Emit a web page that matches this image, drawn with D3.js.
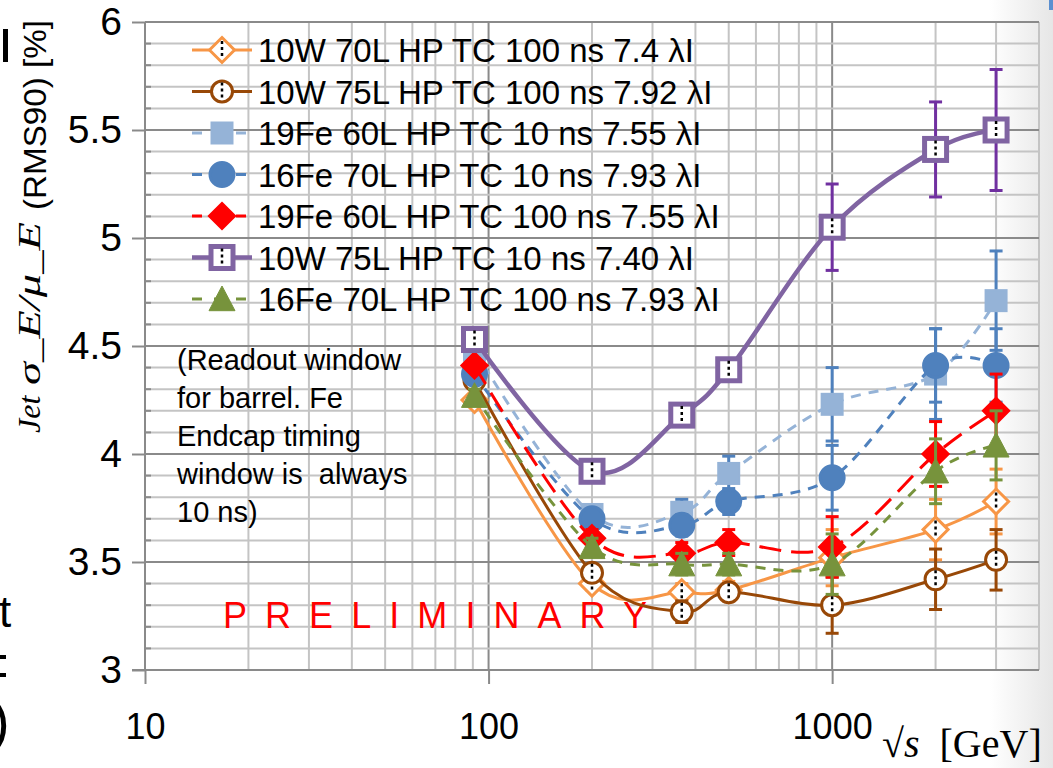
<!DOCTYPE html>
<html lang="en">
<head>
<meta charset="utf-8">
<script src="https://d3js.org/d3.v7.min.js"></script>
<style>
  body { margin: 0; background: #fff; }
  svg { display: block; font-family: "Liberation Sans", Arial, sans-serif; }
</style>
</head>
<body>
<svg id="chart" width="1053" height="768"></svg>
<script>
// energies (sqrt s, GeV)
var energies = [91, 200, 365, 500, 1000, 2000, 3000];

var seriesNames = [
  "10W 70L HP TC 100 ns 7.4 λI",
  "10W 75L HP TC 100 ns 7.92 λI",
  "19Fe 60L HP TC 10 ns 7.55 λI",
  "16Fe 70L HP TC 10 ns 7.93 λI",
  "19Fe 60L HP TC 100 ns 7.55 λI",
  "10W 75L HP TC 10 ns 7.40 λI",
  "16Fe 70L HP TC 100 ns 7.93 λI"
];

// resolution values [%]
var w10_70L_100ns = [4.25, 3.40, 3.36, 3.37, 3.52, 3.65, 3.78];
var w10_75L_100ns = [4.34, 3.45, 3.27, 3.36, 3.30, 3.42, 3.51];
var fe19_60L_10ns = [4.48, 3.72, 3.73, 3.91, 4.23, 4.37, 4.71];
var fe16_70L_10ns = [4.37, 3.70, 3.67, 3.78, 3.89, 4.41, 4.41];
var fe19_60L_100ns = [4.41, 3.61, 3.54, 3.59, 3.57, 4.00, 4.20];
var w10_75L_10ns = [4.53, 3.92, 4.18, 4.39, 5.05, 5.41, 5.50];
var fe16_70L_100ns = [4.27, 3.57, 3.49, 3.49, 3.49, 3.92, 4.04];

// errors
var err_w10_70L_100ns = [0.03, 0.03, 0.04, 0.04, 0.13, 0.14, 0.15];
var err_w10_75L_100ns = [0.03, 0.03, 0.05, 0.04, 0.13, 0.14, 0.14];
var err_fe19_60L_10ns = [0.03, 0.04, 0.06, 0.08, 0.17, 0.21, 0.23];
var err_fe16_70L_10ns = [0.03, 0.04, 0.05, 0.06, 0.15, 0.17, 0.17];
var err_fe19_60L_100ns = [0.03, 0.04, 0.05, 0.06, 0.14, 0.15, 0.17];
var err_w10_75L_10ns = [0.03, 0.03, 0.05, 0.05, 0.20, 0.22, 0.28];
var err_fe16_70L_100ns = [0.03, 0.04, 0.05, 0.05, 0.14, 0.15, 0.16];

var yTicks = [3, 3.5, 4, 4.5, 5, 5.5, 6];
var xTicks = [10, 100, 1000];

var series = [
  { name: seriesNames[0], v: w10_70L_100ns, e: err_w10_70L_100ns, color: "#F79646", ecolor: "#F79646", dash: null, lw: 3, marker: "diamondOpen" },
  { name: seriesNames[1], v: w10_75L_100ns, e: err_w10_75L_100ns, color: "#984807", ecolor: "#984807", dash: null, lw: 3, marker: "circleOpen" },
  { name: seriesNames[2], v: fe19_60L_10ns, e: err_fe19_60L_10ns, color: "#95B3D7", ecolor: "#4F81BD", dash: "10,8", lw: 3, marker: "square" },
  { name: seriesNames[3], v: fe16_70L_10ns, e: err_fe16_70L_10ns, color: "#4F81BD", ecolor: "#4F81BD", dash: "10,8", lw: 3, marker: "circle" },
  { name: seriesNames[4], v: fe19_60L_100ns, e: err_fe19_60L_100ns, color: "#FF0000", ecolor: "#FF0000", dash: "22,10", lw: 3, marker: "diamond" },
  { name: seriesNames[5], v: w10_75L_10ns, e: err_w10_75L_10ns, color: "#8064A2", ecolor: "#7030A0", dash: null, lw: 4.5, marker: "squareOpen" },
  { name: seriesNames[6], v: fe16_70L_100ns, e: err_fe16_70L_100ns, color: "#77933C", ecolor: "#77933C", dash: "10,8", lw: 3, marker: "triangle" }
];

var svg = d3.select("#chart");
var mLeft = 145, mRight = 1039, mTop = 22, mBottom = 670;

var x = d3.scaleLog().domain([10, 4000]).range([mLeft, mRight]);
var y = d3.scaleLinear().domain([3, 6]).range([mBottom, mTop]);

// slide shading on the right edge
var defs = svg.append("defs");
var grad = defs.append("linearGradient").attr("id", "edge").attr("x1", 0).attr("x2", 1);
grad.append("stop").attr("offset", 0).attr("stop-color", "#fff");
grad.append("stop").attr("offset", 1).attr("stop-color", "#e6e6e6");
svg.append("rect").attr("x", 990).attr("y", 0).attr("width", 63).attr("height", 768).attr("fill", "url(#edge)");
svg.append("rect").attr("x", 1049).attr("y", 0).attr("width", 4).attr("height", 10).attr("fill", "#5B8FD0");

// grid
var grid = svg.append("g");
var vMinor = [];
[10, 100, 1000].forEach(function (d) {
  for (var k = 1; k <= 9; k++) if (d * k <= 4000) vMinor.push(d * k);
});
grid.selectAll(".vg").data(vMinor).enter().append("line")
  .attr("x1", d => x(d)).attr("x2", d => x(d)).attr("y1", mTop).attr("y2", mBottom)
  .attr("stroke", d => [10, 100, 1000].indexOf(d) >= 0 ? "#8a8a8a" : "#c4c4c4")
  .attr("stroke-width", 2);
var hLines = d3.range(0, 31).map(i => 3 + i * 0.1);
grid.selectAll(".hg").data(hLines).enter().append("line")
  .attr("x1", mLeft).attr("x2", mRight).attr("y1", d => y(d)).attr("y2", d => y(d))
  .attr("stroke", (d, i) => i % 5 === 0 ? "#8a8a8a" : "#c4c4c4")
  .attr("stroke-width", 2);

// axes
var yAxis = svg.append("g").attr("transform", "translate(" + mLeft + ",0)")
  .call(d3.axisLeft(y).tickValues(yTicks).tickSize(13).tickPadding(10)
    .tickFormat(d => d3.format("")(d)));
var xAxis = svg.append("g").attr("transform", "translate(0," + mBottom + ")")
  .call(d3.axisBottom(x).tickValues(xTicks).tickSize(14).tickPadding(29)
    .tickFormat(d3.format("d")));
[yAxis, xAxis].forEach(function (a) {
  a.select(".domain").remove();
  a.selectAll("line").attr("stroke", "#8a8a8a").attr("stroke-width", 2);
  a.selectAll("text").attr("fill", "#000")
    .attr("font-family", "Liberation Sans, Arial, sans-serif");
});
yAxis.selectAll("text").attr("font-size", 39);
xAxis.selectAll("text").attr("font-size", 36);
svg.append("line").attr("x1", mLeft).attr("x2", mLeft).attr("y1", mTop).attr("y2", mBottom)
  .attr("stroke", "#8a8a8a").attr("stroke-width", 2);
svg.append("line").attr("x1", 132).attr("x2", mRight).attr("y1", mBottom).attr("y2", mBottom)
  .attr("stroke", "#8a8a8a").attr("stroke-width", 2);
// minor y ticks inside
svg.append("g").selectAll("line").data(hLines.filter((d, i) => i % 5 !== 0)).enter().append("line")
  .attr("x1", mLeft).attr("x2", mLeft + 6).attr("y1", d => y(d)).attr("y2", d => y(d))
  .attr("stroke", "#8a8a8a").attr("stroke-width", 2);

// PRELIMINARY
svg.append("text").attr("x", 223).attr("y", 628).attr("fill", "#FF0000")
  .attr("font-size", 36).attr("textLength", 424).attr("lengthAdjust", "spacing")
  .text("PRELIMINARY");

// note
var note = ["(Readout window", "for barrel. Fe", "Endcap timing", "window is  always", "10 ns)"];
svg.append("g").selectAll("text").data(note).enter().append("text")
  .attr("x", 177).attr("y", (d, i) => 370 + i * 38)
  .attr("font-size", 29).attr("fill", "#000")
  .style("white-space", "pre")
  .text(d => d);

// markers
function drawMarker(g, s, cx, cy) {
  if (s.marker === "diamondOpen" || s.marker === "diamond") {
    var r = 12.5;
    g.append("path").attr("d", "M" + cx + "," + (cy - r) + "L" + (cx + r) + "," + cy + "L" + cx + "," + (cy + r) + "L" + (cx - r) + "," + cy + "Z")
      .attr("fill", s.marker === "diamond" ? s.color : "#fff").attr("stroke", s.color).attr("stroke-width", 3);
  } else if (s.marker === "circleOpen" || s.marker === "circle") {
    g.append("circle").attr("cx", cx).attr("cy", cy).attr("r", s.marker === "circle" ? 12 : 10.5)
      .attr("fill", s.marker === "circle" ? s.color : "#fff").attr("stroke", s.color).attr("stroke-width", 3);
  } else if (s.marker === "square" || s.marker === "squareOpen") {
    var h = s.marker === "square" ? 10.5 : 11;
    g.append("rect").attr("x", cx - h).attr("y", cy - h).attr("width", 2 * h).attr("height", 2 * h)
      .attr("fill", s.marker === "square" ? s.color : "#fff").attr("stroke", s.color)
      .attr("stroke-width", s.marker === "squareOpen" ? 5 : 2);
  } else if (s.marker === "triangle") {
    var t = 13;
    g.append("path").attr("d", "M" + cx + "," + (cy - t) + "L" + (cx + t) + "," + (cy + t * 0.9) + "L" + (cx - t) + "," + (cy + t * 0.9) + "Z")
      .attr("fill", s.color).attr("stroke", s.color).attr("stroke-width", 1);
  }
  if (/Open$/.test(s.marker)) {
    g.append("line").attr("x1", cx).attr("x2", cx).attr("y1", cy - 9).attr("y2", cy + 9)
      .attr("stroke", "#000").attr("stroke-width", 2.5).attr("stroke-dasharray", "3,3");
  }
}

var line = d3.line().x(d => x(d[0])).y(d => y(d[1])).curve(d3.curveCardinal.tension(0));

var plot = svg.append("g");
series.forEach(function (s) {
  var g = plot.append("g");
  var pts = energies.map((e, i) => [e, s.v[i], s.e[i]]);
  g.append("path").datum(pts).attr("d", line).attr("fill", "none")
    .attr("stroke", s.color).attr("stroke-width", s.lw)
    .attr("stroke-dasharray", s.dash);
  // error bars
  pts.forEach(function (p) {
    var cx = x(p[0]);
    g.append("line").attr("x1", cx).attr("x2", cx).attr("y1", y(p[1] - p[2])).attr("y2", y(p[1] + p[2]))
      .attr("stroke", s.ecolor).attr("stroke-width", 3);
    [p[1] - p[2], p[1] + p[2]].forEach(function (v) {
      g.append("line").attr("x1", cx - 6.5).attr("x2", cx + 6.5).attr("y1", y(v)).attr("y2", y(v))
        .attr("stroke", s.ecolor).attr("stroke-width", 3);
    });
  });
  pts.forEach(function (p) { drawMarker(g, s, x(p[0]), y(p[1])); });
});

// legend
var leg = svg.append("g");
series.forEach(function (s, i) {
  var ly = 50 + i * 41.5;
  leg.append("line").attr("x1", 192).attr("x2", 252).attr("y1", ly).attr("y2", ly)
    .attr("stroke", s.color).attr("stroke-width", s.lw)
    .attr("stroke-dasharray", s.dash ? "10,12" : null);
  drawMarker(leg, s, 222, ly);
  leg.append("text").attr("x", 258).attr("y", ly + 12).attr("font-size", 33).attr("fill", "#000").text(s.name);
});

// axis titles
svg.append("text").attr("transform", "translate(40,433) rotate(-90)")
  .attr("font-size", 32).attr("fill", "#000")
  .attr("font-family", "Liberation Serif, serif").attr("font-style", "italic")
  .text("Jet");
svg.append("text").attr("transform", "translate(40,385) rotate(-90)")
  .attr("font-size", 32).attr("fill", "#000")
  .attr("font-family", "Liberation Serif, serif").attr("font-style", "italic")
  .attr("textLength", 163).attr("lengthAdjust", "spacingAndGlyphs")
  .text("σ_E/μ_E");
svg.append("text").attr("transform", "translate(46,210) rotate(-90)")
  .attr("font-size", 31).attr("fill", "#000")
  .attr("textLength", 190).attr("lengthAdjust", "spacingAndGlyphs")
  .text("(RMS90) [%]");

var xt = svg.append("text").attr("x", 882).attr("y", 757).attr("font-size", 40)
  .attr("font-family", "Liberation Serif, serif").attr("fill", "#000")
  .style("white-space", "pre");
xt.append("tspan").text("√");
xt.append("tspan").attr("font-style", "italic").text("s");
xt.append("tspan").text("  [GeV]");

// clipped slide text at left edge
svg.append("rect").attr("x", 3).attr("y", 29).attr("width", 5).attr("height", 33).attr("fill", "#000");
svg.append("text").attr("x", -1).attr("y", 627).attr("font-size", 44).attr("fill", "#000").text("t");
svg.append("rect").attr("x", 0).attr("y", 655).attr("width", 6).attr("height", 4).attr("fill", "#000");
svg.append("rect").attr("x", 0).attr("y", 673).attr("width", 6).attr("height", 4).attr("fill", "#000");
svg.append("text").attr("x", -9).attr("y", 740).attr("font-size", 56).attr("fill", "#000").text(")");
</script>
</body>
</html>
